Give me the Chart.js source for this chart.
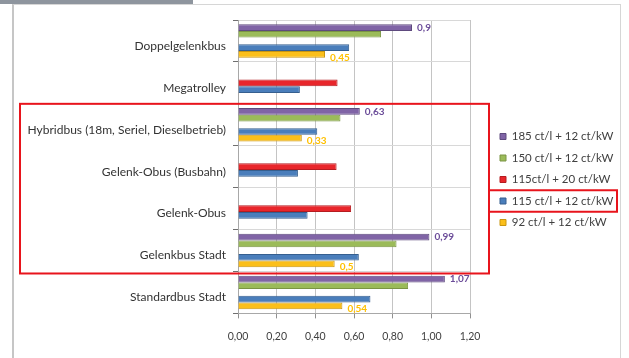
<!DOCTYPE html>
<html>
<head>
<meta charset="utf-8">
<script src="https://cdn.jsdelivr.net/npm/chart.js@4/dist/chart.umd.min.js"></script>
<style>
  html, body { margin: 0; padding: 0; background: #ffffff; }
  #wrap { position: relative; width: 629px; height: 358px; overflow: hidden; }
  #tab { position: absolute; left: 0; top: 0; width: 193px; height: 4px; background: #8e959e; }
  #frame { position: absolute; left: 12px; top: 4px; width: 609px; height: 370px;
           border: 1px solid #d6d6d6; border-left: 2px solid #c6c6c6; box-sizing: border-box; }
  #c { position: absolute; left: 0; top: 0; }
</style>
</head>
<body>
<div id="wrap">
  <div id="tab"></div>
  <div id="frame"></div>
  <canvas id="c" width="629" height="358"></canvas>
</div>
<script>
// Bus types (top to bottom)
const categories = [
  'Doppelgelenkbus',
  'Megatrolley',
  'Hybridbus (18m, Seriel, Dieselbetrieb)',
  'Gelenk-Obus (Busbahn)',
  'Gelenk-Obus',
  'Gelenkbus Stadt',
  'Standardbus Stadt'
];

// Costs per scenario (fuel ct/l + electricity ct/kW)
const seriesNames = [
  '185 ct/l + 12 ct/kW',
  '150 ct/l + 12 ct/kW',
  '115ct/l + 20 ct/kW',
  '115 ct/l + 12 ct/kW',
  '92 ct/l + 12 ct/kW'
];
const diesel185 = [0.90, null, 0.63, null, null, 0.99, 1.07];
const diesel150 = [0.74, null, 0.53, null, null, 0.82, 0.88];
const strom20   = [null, 0.515, null, 0.51, 0.585, null, null];
const basis115  = [0.575, 0.32, 0.41, 0.31, 0.36, 0.625, 0.685];
const diesel92  = [0.45, null, 0.33, null, null, 0.50, 0.54];

// X axis ticks
const xTicks = [0, 0.2, 0.4, 0.6, 0.8, 1.0, 1.2];

const fills   = ['#8064a6', '#9bbb59', '#e8262b', '#4a7ebb', '#fbbf1a'];
const borders = ['#5e4a7e', '#7a9444', '#b51c20', '#365f8f', '#c99610'];
const labelColors = ['#6b4c99', null, null, null, '#ffc000'];

const seriesData = [diesel185, diesel150, strom20, basis115, diesel92];

const FONT = 'Lato, "Liberation Sans", sans-serif';
const LEGEND_W = 159;
const LEGEND_SHIFT_X = 20;
const LEGEND_SHIFT_Y = -8;

// Fixed legend width and offset so the plot ends at 1,20 and the legend sits further right
const legendLayout = {
  id: 'legendLayout',
  afterInit(chart) {
    const lg = chart.legend;
    const fit = lg.fit.bind(lg);
    lg.fit = function () { fit(); this.width = LEGEND_W; };
  },
  afterLayout(chart) {
    const lg = chart.legend;
    lg.left += LEGEND_SHIFT_X;
    lg.right += LEGEND_SHIFT_X;
    lg.top += LEGEND_SHIFT_Y;
    lg.bottom += LEGEND_SHIFT_Y;
  }
};

// Value labels at the bar ends for the highest and lowest fuel price
const valueLabels = {
  id: 'valueLabels',
  afterDatasetsDraw(chart) {
    const ctx = chart.ctx;
    ctx.save();
    ctx.font = 'bold 10px ' + FONT;
    ctx.textBaseline = 'middle';
    ctx.textAlign = 'left';
    chart.data.datasets.forEach((ds, i) => {
      const col = labelColors[i];
      if (!col) return;
      const meta = chart.getDatasetMeta(i);
      meta.data.forEach((bar, j) => {
        const v = ds.data[j];
        if (v === null || v === undefined) return;
        ctx.fillStyle = col;
        const dy = i === 4 ? 3 : 0;
        ctx.fillText(String(v).replace('.', ','), bar.x + 5, bar.y + dy);
      });
    });
    ctx.restore();
  }
};

// Red highlight frames
const highlights = {
  id: 'highlights',
  afterDraw(chart) {
    const ctx = chart.ctx;
    const y = chart.scales.y;
    const step = (y.bottom - y.top) / categories.length;
    const lg = chart.legend;
    ctx.save();
    ctx.strokeStyle = '#e8141c';
    ctx.lineWidth = 2;
    const top = y.getPixelForValue(2) - step / 2;
    const bottom = y.getPixelForValue(5) + step / 2 + 2;
    ctx.strokeRect(20, top, lg.left - 1 - 20, bottom - top);
    const hb = lg.legendHitBoxes[3];
    if (hb) {
      ctx.strokeRect(lg.left - 1, hb.top - 5, 617 - (lg.left - 1), hb.height + 10);
    }
    ctx.restore();
  }
};

new Chart(document.getElementById('c'), {
  type: 'bar',
  data: {
    labels: categories,
    datasets: seriesData.map((d, i) => ({
      label: seriesNames[i],
      data: d,
      backgroundColor: fills[i],
      borderColor: borders[i],
      borderWidth: 1,
      borderSkipped: 'start',
      barPercentage: 1.0,
      categoryPercentage: 0.8
    }))
  },
  options: {
    indexAxis: 'y',
    responsive: false,
    animation: false,
    devicePixelRatio: 1,
    layout: { padding: { top: 20, bottom: 3, left: 0, right: 0 } },
    plugins: {
      legend: {
        position: 'right',
        labels: {
          boxWidth: 6,
          boxHeight: 6,
          padding: 10,
          color: '#404040',
          font: { family: FONT, size: 11.5 }
        }
      },
      tooltip: { enabled: false }
    },
    scales: {
      x: {
        min: 0,
        max: 1.2,
        afterBuildTicks(scale) { scale.ticks = xTicks.map(v => ({ value: v })); },
        ticks: {
          padding: 12,
          color: '#404040',
          font: { family: FONT, size: 10.5 },
          callback: v => Number(v).toFixed(2).replace('.', ',')
        },
        grid: { color: '#c4c4c4', tickLength: 5, tickColor: '#909090' },
        border: { color: '#a8a8a8' }
      },
      y: {
        afterFit(scale) { scale.width = 238; },
        ticks: {
          padding: 7,
          labelOffset: 5,
          color: '#333333',
          font: { family: FONT, size: 12 }
        },
        grid: { color: '#d8d8d8', tickLength: 5, tickColor: '#707070' },
        border: { color: '#a8a8a8' }
      }
    }
  },
  plugins: [legendLayout, valueLabels, highlights]
});
</script>
</body>
</html>
